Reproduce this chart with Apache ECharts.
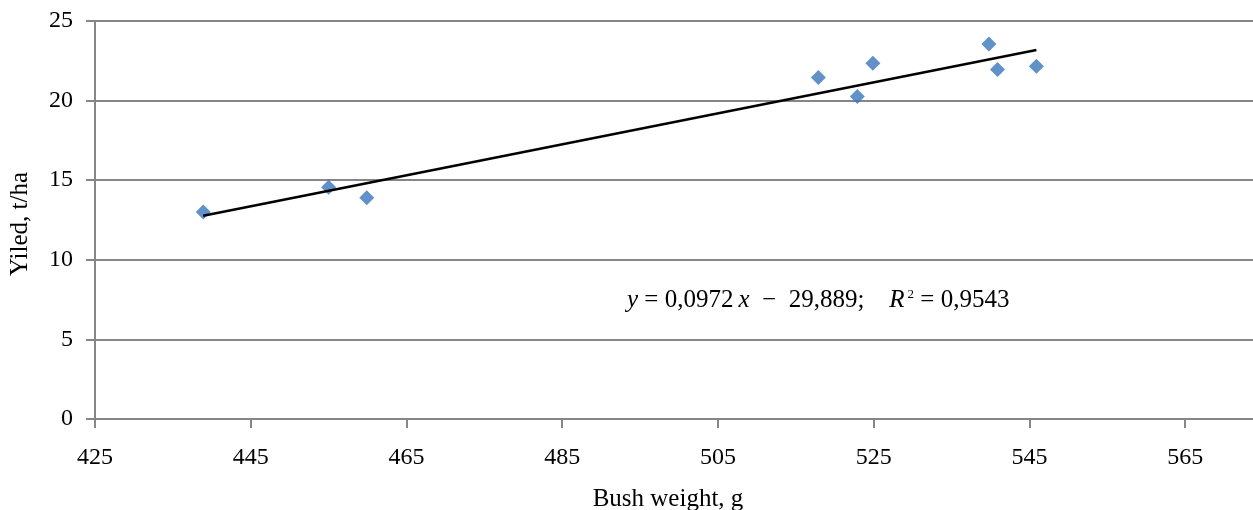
<!DOCTYPE html>
<html>
<head>
<meta charset="utf-8">
<script src="https://cdn.jsdelivr.net/npm/echarts@6/dist/echarts.min.js"></script>
<style>
    html, body { margin: 0; padding: 0; background: #fff; }
    #chart { width: 1253px; height: 510px; }
</style>
</head>
<body>
<div id="chart"></div>
<script>
// datos
const bushWeight = [438.9, 455.0, 459.9, 517.9, 522.9, 524.9, 539.8, 540.9, 545.9];
const yieldTha = [13.0, 14.55, 13.9, 21.45, 20.25, 22.35, 23.55, 21.95, 22.15];

// recta de tendencia (ecuacion del grafico)
const slope = 0.0972;
const intercept = -29.889;

const xTicks = [425, 445, 465, 485, 505, 525, 545, 565];
const yTicks = [0, 5, 10, 15, 20, 25];

const font = "'Liberation Serif', 'Times New Roman', serif";
const grey = "#868686";

document.addEventListener("DOMContentLoaded", () => {

    const chart = echarts.init(document.getElementById("chart"));

    const puntos = bushWeight.map((x, i) => [x, yieldTha[i]]);
    const xMin = Math.min(...bushWeight);
    const xMax = Math.max(...bushWeight);
    const tendencia = [xMin, xMax].map(x => [x, slope * x + intercept]);

    chart.setOption({
        animation: false,
        grid: {
            left: 95,
            right: -10,
            top: 21,
            bottom: 91,
            outerBoundsMode: "none"
        },
        title: {
            left: 622,
            top: 283,
            text: "{i|y} = 0,0972\u2009{i|x}  \u2212  29,889;    {i|R}{s|2} = 0,9543",
            textStyle: {
                fontFamily: font,
                fontSize: 25,
                fontWeight: "normal",
                color: "#000",
                rich: {
                    i: { fontFamily: font, fontSize: 25, fontStyle: "italic", color: "#000" },
                    s: { fontFamily: font, fontSize: 13, color: "#000", verticalAlign: "top", padding: [0, 0, 12, 3] }
                }
            }
        },
        xAxis: {
            type: "value",
            min: xTicks[0],
            max: 575,
            interval: 20,
            name: "Bush weight, g",
            nameLocation: "middle",
            nameGap: 68,
            nameTextStyle: {
                fontFamily: font,
                fontSize: 25,
                color: "#000",
                padding: [0, 22, 0, 0]
            },
            axisLine: { show: true, lineStyle: { color: grey, width: 2 } },
            axisTick: { show: true, length: 9, lineStyle: { color: grey, width: 2 } },
            splitLine: { show: false },
            axisLabel: {
                showMaxLabel: false,
                margin: 27,
                fontFamily: font,
                fontSize: 24,
                color: "#000"
            }
        },
        yAxis: {
            type: "value",
            min: yTicks[0],
            max: yTicks[yTicks.length - 1],
            interval: 5,
            name: "Yiled, t/ha",
            nameLocation: "middle",
            nameGap: 62,
            nameTextStyle: {
                fontFamily: font,
                fontSize: 25,
                color: "#000",
                padding: [0, 8, 0, 0]
            },
            axisLine: { show: true, lineStyle: { color: grey, width: 2 } },
            axisTick: { show: true, length: 9, lineStyle: { color: grey, width: 2 } },
            splitLine: { show: true, lineStyle: { color: grey, width: 2 } },
            axisLabel: {
                margin: 22,
                fontFamily: font,
                fontSize: 24,
                color: "#000"
            }
        },
        series: [
            {
                type: "scatter",
                data: puntos,
                symbol: "diamond",
                symbolSize: 15,
                itemStyle: { color: "#3a75bb" },
                z: 3
            },
            {
                type: "line",
                data: tendencia,
                symbol: "none",
                lineStyle: { color: "#000", width: 2.5 },
                z: 4
            }
        ]
    });
});
</script>
</body>
</html>
